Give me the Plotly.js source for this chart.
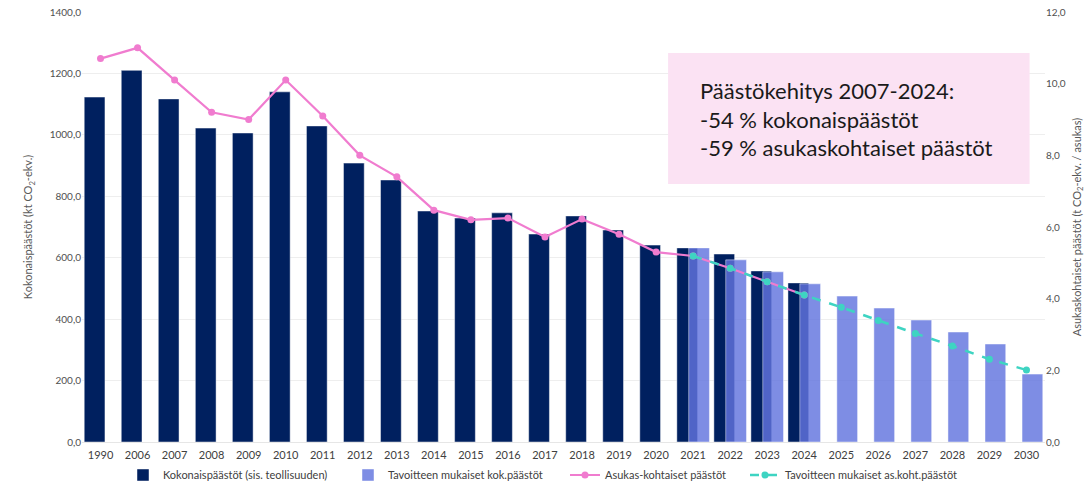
<!DOCTYPE html>
<html>
<head>
<meta charset="utf-8">
<script src="https://cdn.plot.ly/plotly-3.0.1.min.js"></script>
<style>
  html, body { margin: 0; padding: 0; background: #fff; }
  #chart { width: 1090px; height: 482px; }
</style>
</head>
<body>
<div id="chart"></div>
<script>
var years = ["1990", "2006", "2007", "2008", "2009", "2010", "2011", "2012", "2013", "2014",
  "2015", "2016", "2017", "2018", "2019", "2020", "2021", "2022", "2023", "2024",
  "2025", "2026", "2027", "2028", "2029", "2030"];

// kt CO2-ekv.
var total = [1123, 1210, 1117, 1022, 1006, 1140, 1029, 908, 853, 752,
  729, 746, 677, 736, 690, 641, 632, 612, 557, 518,
  null, null, null, null, null, null];
var target_total = [null, null, null, null, null, null, null, null, null, null,
  null, null, null, null, null, null, 632, 593, 554, 515,
  475, 436, 397, 358, 319, 221];

// t CO2-ekv. / asukas
var per_capita = [10.7, 11.0, 10.1, 9.2, 9.0, 10.1, 9.1, 8.0, 7.4, 6.47,
  6.2, 6.25, 5.72, 6.22, 5.8, 5.3, 5.19, 4.85, 4.47, 4.1,
  null, null, null, null, null, null];
var target_per_capita = [null, null, null, null, null, null, null, null, null, null,
  null, null, null, null, null, null, 5.19, 4.85, 4.47, 4.1,
  3.76, 3.39, 3.03, 2.68, 2.31, 2.01];

var navy = "#00205f";
var font_family = "Lato, 'Open Sans', sans-serif";

var trace_total = {
  type: "bar",
  name: "Kokonaispäästöt (sis. teollisuuden)",
  legend: "legend",
  x: years,
  y: total,
  width: 0.56,
  offset: -0.44,
  marker: { color: navy, line: { color: "rgba(255,255,255,0.45)", width: 1 } },
};

var trace_target_total = {
  type: "bar",
  name: "Tavoitteen mukaiset kok.päästöt",
  legend: "legend2",
  x: years,
  y: target_total,
  width: 0.56,
  offset: -0.12,
  marker: { color: "rgba(98,116,222,0.82)", line: { color: "rgba(255,255,255,0.45)", width: 1 } },
};

var trace_per_capita = {
  type: "scatter",
  mode: "lines+markers",
  name: "Asukas-kohtaiset päästöt",
  legend: "legend3",
  x: years,
  y: per_capita,
  yaxis: "y2",
  line: { color: "#f07ccf", width: 2.2 },
  marker: { color: "#f07ccf", size: 7 },
};

var trace_target_per_capita = {
  type: "scatter",
  mode: "lines+markers",
  name: "Tavoitteen mukaiset as.koht.päästöt",
  legend: "legend4",
  x: years,
  y: target_per_capita,
  yaxis: "y2",
  line: { color: "#3ed4c2", width: 2.5, dash: "dash" },
  marker: { color: "#3ed4c2", size: 7 },
};

function legend_at(px) {
  return {
    orientation: "h",
    xref: "container",
    yref: "container",
    x: px / 1090,
    xanchor: "left",
    y: 0.0145,
    yanchor: "middle",
    bgcolor: "rgba(0,0,0,0)",
    font: { size: 11, color: "#404040" },
  };
}

var layout = {
  width: 1090,
  height: 482,
  margin: { l: 82, r: 45, t: 12, b: 40, autoexpand: false },
  paper_bgcolor: "#ffffff",
  plot_bgcolor: "#ffffff",
  separators: ", ",
  font: { family: font_family, size: 11, color: "#595959" },
  barmode: "overlay",
  showlegend: true,
  legend: legend_at(123),
  legend2: legend_at(348),
  legend3: legend_at(565),
  legend4: legend_at(745),
  xaxis: {
    type: "category",
    range: [-0.5, 25.5],
    showgrid: false,
    showline: false,
    ticks: "",
    automargin: false,
    ticklabelstandoff: 5,
    tickfont: { size: 11, color: "#404040" },
  },
  yaxis: {
    range: [0, 1400],
    dtick: 200,
    tickformat: ".1f",
    gridcolor: "#eeeeee",
    gridwidth: 1,
    zeroline: true,
    zerolinecolor: "#e6e6e6",
    showline: false,
    ticks: "",
    automargin: false,
    tickfont: { size: 10, color: "#505050" },
    title: { text: "Kokonaispäästöt (kt CO<sub>2</sub>-ekv.)", font: { size: 11, color: "#595959" }, standoff: 14 },
  },
  yaxis2: {
    overlaying: "y",
    side: "right",
    range: [0, 12],
    dtick: 2,
    tickformat: ".1f",
    showgrid: false,
    zeroline: false,
    showline: false,
    ticks: "",
    automargin: false,
    tickfont: { size: 10, color: "#505050" },
    title: { text: "Asukaskohtaiset päästöt (t CO<sub>2</sub>-ekv. / asukas)", font: { size: 11, color: "#595959" }, standoff: 8 },
  },
  shapes: [
    {
      type: "rect",
      xref: "paper",
      yref: "paper",
      x0: 0.6086,
      x1: 0.984,
      y0: 0.6,
      y1: 0.9047,
      fillcolor: "#fbe2f3",
      line: { width: 0 },
      layer: "above",
    },
  ],
  annotations: [
    {
      xref: "paper",
      yref: "paper",
      x: 0.64,
      y: 0.751,
      xanchor: "left",
      yanchor: "middle",
      align: "left",
      showarrow: false,
      font: { family: font_family, size: 22, color: "#1a1a1a" },
      text: "Päästökehitys 2007-2024:<br>-54 % kokonaispäästöt<br>-59 % asukaskohtaiset päästöt",
    },
  ],
};

Plotly.newPlot(
  document.getElementById("chart"),
  [trace_total, trace_target_total, trace_per_capita, trace_target_per_capita],
  layout,
  { staticPlot: true }
);
</script>
</body>
</html>
